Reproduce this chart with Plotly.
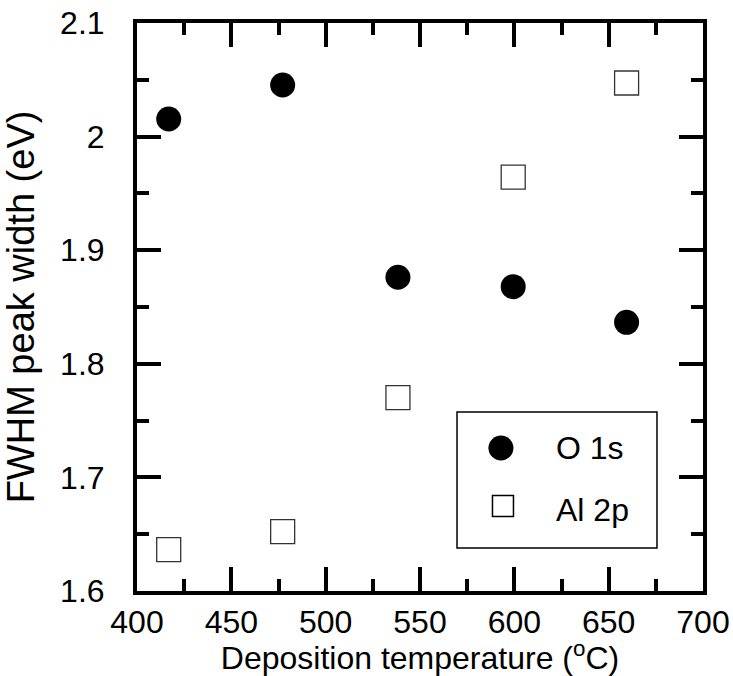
import plotly.graph_objects as go

# Data
temps_o1s = [416.8, 477.2, 538.3, 599.4, 659.5]
fwhm_o1s = [2.0155, 2.0454, 1.8762, 1.8679, 1.8365]
temps_al2p = [416.8, 477.2, 538.3, 599.4, 659.5]
fwhm_al2p = [1.6364, 1.6522, 1.7702, 1.9644, 2.0472]
series_names = ["O 1s", "Al 2p"]
x_ticks = [400, 450, 500, 550, 600, 650, 700]
y_ticks = [1.6, 1.7, 1.8, 1.9, 2.0, 2.1]
y_ticktext = ["1.6", "1.7", "1.8", "1.9", "2", "2.1"]

FONT = "Liberation Sans, Arial, Helvetica, sans-serif"

fig = go.Figure()
fig.add_trace(go.Scatter(
    x=temps_o1s, y=fwhm_o1s, mode="markers", name=series_names[0],
    marker=dict(symbol="circle", size=25, color="black", line=dict(width=0)),
    showlegend=False))
fig.add_trace(go.Scatter(
    x=temps_al2p, y=fwhm_al2p, mode="markers", name=series_names[1],
    marker=dict(symbol="square-open", size=24, color="#333333", line=dict(width=1.3)),
    showlegend=False))

axis_common = dict(
    showline=True, linecolor="black", linewidth=4, mirror="allticks",
    ticks="inside", ticklen=24, tickwidth=4, tickcolor="black",
    showgrid=False, zeroline=False, automargin=False,
    tickfont=dict(family=FONT, size=32, color="black"),
)

fig.update_xaxes(
    range=[400, 700], tickvals=x_ticks,
    minor=dict(dtick=25, tick0=400, ticks="inside", ticklen=12, tickwidth=4, tickcolor="black", showgrid=False),
    title=dict(text="Deposition temperature (<sup>o</sup>C)", font=dict(family=FONT, size=32, color="black"), standoff=4),
    **axis_common)
fig.update_yaxes(
    range=[1.6, 2.1], tickvals=y_ticks, ticktext=y_ticktext,
    ticklabelstandoff=22,
    minor=dict(dtick=0.05, tick0=1.6, ticks="inside", ticklen=12, tickwidth=4, tickcolor="black", showgrid=False),
    title=dict(text="FWHM peak width (eV)", font=dict(family=FONT, size=38, color="black"), standoff=20),
    **axis_common)

# Legend box drawn manually
fig.add_shape(type="rect", xref="x domain", yref="y domain",
              x0=0.5654, x1=0.9187, y0=0.0757, y1=0.3151,
              line=dict(color="black", width=1.5), fillcolor="white", layer="above")
fig.add_shape(type="circle", xref="x domain", yref="y domain",
              xsizemode="pixel", ysizemode="pixel", xanchor=0.643, yanchor=0.2518,
              x0=-12.5, x1=12.5, y0=-12.5, y1=12.5,
              line=dict(color="black", width=0), fillcolor="black", layer="above")
fig.add_shape(type="rect", xref="x domain", yref="y domain",
              xsizemode="pixel", ysizemode="pixel", xanchor=0.6466, yanchor=0.1496,
              x0=-10.5, x1=10.5, y0=-10.5, y1=10.5,
              line=dict(color="black", width=1.5), fillcolor="white", layer="above")
fig.add_annotation(xref="x domain", yref="y domain", x=0.737, y=0.2518,
                   text=series_names[0], showarrow=False, xanchor="left", yanchor="middle",
                   font=dict(family=FONT, size=32, color="black"))
fig.add_annotation(xref="x domain", yref="y domain", x=0.737, y=0.142,
                   text=series_names[1], showarrow=False, xanchor="left", yanchor="middle",
                   font=dict(family=FONT, size=32, color="black"))

fig.update_layout(
    width=733, height=676,
    margin=dict(l=137, r=30, t=23, b=85),
    paper_bgcolor="white", plot_bgcolor="white",
    showlegend=False,
)

fig.write_html("out.html")
